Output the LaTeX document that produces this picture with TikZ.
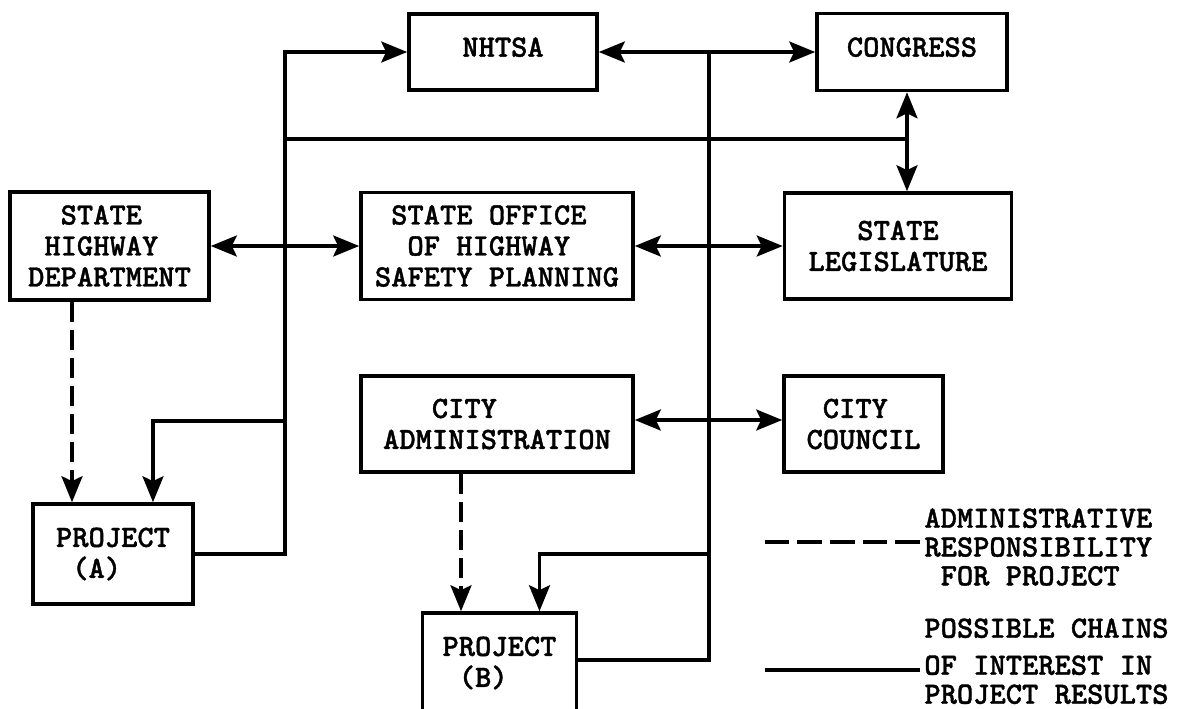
\documentclass[tikz,border=0pt]{standalone}
\usepackage{fontspec}
\usepackage{tikz}
\usetikzlibrary{arrows.meta}
\newfontfamily\typer{lmmonolt10-bold.otf}[FakeBold=1.2]
\tikzstyle{arrow} = [line width=1.7pt,->,>={Stealth[length=13pt,width=10.5pt,inset=2.5pt]}]
\tikzstyle{arrow_2} = [line width=1.7pt,<->,>={Stealth[length=13pt,width=10.5pt,inset=2.5pt]}]
\tikzstyle{arrow_adm} = [arrow, dash pattern=on 10pt off 4pt]
\tikzstyle{link} = [line width=1.7pt]
\tikzstyle{agency} = [rectangle, draw, line width=1.8pt, inner sep=0pt, align=left, font=\typer\fontsize{15.5}{15.5}\selectfont]
\tikzstyle{key} = [inner sep=0pt, anchor=north west, align=left]

\begin{document}
\begin{tikzpicture}[x=0.5pt, y=-0.5pt]
    \useasboundingbox (0,0) rectangle (1179,708);

    \node (nhtsa) [agency, minimum width=94pt, minimum height=38pt, text depth=5pt] at (503,52) {NHTSA};
    \node (congress) [agency, minimum width=95pt, minimum height=38.5pt, text depth=5pt] at (912,52) {CONGRESS};
    \node (shd) [agency, minimum width=99.5pt, minimum height=54pt] at (109.5,246) {\phantom{XX}STATE\\\phantom{X}HIGHWAY\\DEPARTMENT};
    \node (sohsp) [agency, minimum width=136pt, minimum height=53.5pt] at (497,246) {\phantom{X}STATE OFFICE\\\phantom{XX}OF HIGHWAY\\SAFETY PLANNING};
    \node (legis) [agency, minimum width=113.5pt, minimum height=53pt, align=center] at (898,246) {STATE\\LEGISLATURE};
    \node (cityadm) [agency, minimum width=136pt, minimum height=48pt] at (497,424) {\phantom{XXX}CITY\\ADMINISTRATION};
    \node (council) [agency, minimum width=79.5pt, minimum height=48pt] at (863.5,424) {\phantom{X}CITY\\COUNCIL};
    \node (proja) [agency, minimum width=80pt, minimum height=50pt] at (113,554) {PROJECT\\\phantom{X}(A)};
    \node (projb) [agency, minimum width=77pt, minimum height=50pt] at (499.5,663) {PROJECT\\\phantom{X}(B)};

    \node (key_adm) [key, font=\typer\fontsize{15.5}{14.4}\selectfont] at (924,508) {ADMINISTRATIVE\\RESPONSIBILITY\\\phantom{X}FOR PROJECT};
    \node (key_chain) [key, font=\typer\fontsize{15.5}{14.5}\selectfont] at (924,618) {POSSIBLE CHAINS\\[4pt]OF INTEREST IN\\PROJECT RESULTS};

    \coordinate (trunk_a) at (285,554);
    \coordinate (tap_a) at (285,421);
    \coordinate (tap_top) at (285,139);
    \coordinate (trunk_b) at (709,660);
    \coordinate (tap_b) at (709,554);
    \coordinate (cl) at (907,139);
    \coordinate (adm_a) at (72,0);
    \coordinate (adm_b) at (461,0);
    \coordinate (key_dash) at (764.5,542);
    \coordinate (key_solid) at (764.5,670);

    \draw [arrow_2] (nhtsa.east) -- (congress.west);
    \draw [arrow_2] (congress.south -| cl) -- (legis.north -| cl);
    \draw [arrow_2] (shd.east) -- (sohsp.west);
    \draw [arrow_2] (sohsp.east) -- (legis.west);
    \draw [arrow_2] ([yshift=2pt]cityadm.east) -- ([yshift=2pt]council.west);

    \draw [arrow] (proja.east |- trunk_a) -- (trunk_a) |- (nhtsa.west);
    \draw [arrow] (tap_a) -| ([xshift=20pt]proja.north);
    \draw [link] (tap_top) -- (cl);
    \draw [link] (projb.east |- trunk_b) -- (trunk_b) -- (trunk_b |- nhtsa.east);
    \draw [arrow] (tap_b) -| ([xshift=20pt]projb.north);

    \draw [arrow_adm] (shd.south -| adm_a) -- (proja.north -| adm_a);
    \draw [arrow_adm] (cityadm.south -| adm_b) -- (projb.north -| adm_b);

    \draw [link, dash pattern=on 12.35pt off 4pt] (key_dash) -- ++(155.5,0);
    \draw [link] (key_solid) -- ++(155.5,0);
\end{tikzpicture}
\end{document}
